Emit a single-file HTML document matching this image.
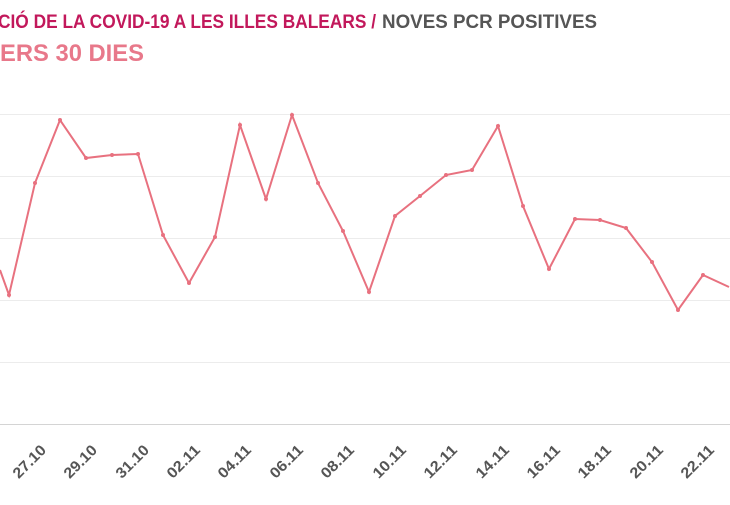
<!DOCTYPE html>
<html><head><meta charset="utf-8"><style>
body{margin:0;background:#fff;width:730px;height:500px;overflow:hidden;font-family:"Liberation Sans",sans-serif}
</style></head><body>
<svg width="730" height="500" xmlns="http://www.w3.org/2000/svg">
<text x="-2" y="28" font-family="Liberation Sans, sans-serif" font-weight="bold" font-size="19" fill="#c2185b" textLength="378" lengthAdjust="spacingAndGlyphs">CIÓ DE LA COVID-19 A LES ILLES BALEARS /</text>
<text x="382" y="28" font-family="Liberation Sans, sans-serif" font-weight="bold" font-size="19" fill="#555" textLength="215" lengthAdjust="spacingAndGlyphs">NOVES PCR POSITIVES</text>
<text x="0" y="61" font-family="Liberation Sans, sans-serif" font-weight="bold" font-size="24" fill="#e8788a" textLength="144" lengthAdjust="spacingAndGlyphs">ERS 30 DIES</text>
<g stroke="#ececec" stroke-width="1">
<line x1="0" x2="730" y1="114.5" y2="114.5"/><line x1="0" x2="730" y1="176.5" y2="176.5"/>
<line x1="0" x2="730" y1="238.5" y2="238.5"/><line x1="0" x2="730" y1="300.5" y2="300.5"/>
<line x1="0" x2="730" y1="362.5" y2="362.5"/></g>
<line x1="0" x2="730" y1="424.5" y2="424.5" stroke="#d4d4d4"/>
<polyline fill="none" stroke="#e8717f" stroke-width="2" points="0,270 9,295 35,183 60,120 86,158 112,155 138,154 163,235 189,283 215,237 240,125 266,199 292,115 318,183 343,231 369,292 395,216 420,196 446,175 472,170 498,126 523,206 549,269 575,219 600,220 626,228 652,262 678,310 703,275 729,287"/>
<g fill="#e8717f">
<circle cx="9" cy="295" r="2"/><circle cx="35" cy="183" r="2"/><circle cx="60" cy="120" r="2"/><circle cx="86" cy="158" r="2"/><circle cx="112" cy="155" r="2"/><circle cx="138" cy="154" r="2"/><circle cx="163" cy="235" r="2"/><circle cx="189" cy="283" r="2"/><circle cx="215" cy="237" r="2"/><circle cx="240" cy="125" r="2"/><circle cx="266" cy="199" r="2"/><circle cx="292" cy="115" r="2"/><circle cx="318" cy="183" r="2"/><circle cx="343" cy="231" r="2"/><circle cx="369" cy="292" r="2"/><circle cx="395" cy="216" r="2"/><circle cx="420" cy="196" r="2"/><circle cx="446" cy="175" r="2"/><circle cx="472" cy="170" r="2"/><circle cx="498" cy="126" r="2"/><circle cx="523" cy="206" r="2"/><circle cx="549" cy="269" r="2"/><circle cx="575" cy="219" r="2"/><circle cx="600" cy="220" r="2"/><circle cx="626" cy="228" r="2"/><circle cx="652" cy="262" r="2"/><circle cx="678" cy="310" r="2"/><circle cx="703" cy="275" r="2"/>
</g>
<g font-family="Liberation Sans, sans-serif" font-weight="bold" font-size="15" fill="#555" text-anchor="end">
<text transform="translate(47,451) rotate(-45)" textLength="40" lengthAdjust="spacingAndGlyphs">27.10</text>
<text transform="translate(98,451) rotate(-45)" textLength="40" lengthAdjust="spacingAndGlyphs">29.10</text>
<text transform="translate(150,451) rotate(-45)" textLength="40" lengthAdjust="spacingAndGlyphs">31.10</text>
<text transform="translate(201,451) rotate(-45)" textLength="40" lengthAdjust="spacingAndGlyphs">02.11</text>
<text transform="translate(252,451) rotate(-45)" textLength="40" lengthAdjust="spacingAndGlyphs">04.11</text>
<text transform="translate(304,451) rotate(-45)" textLength="40" lengthAdjust="spacingAndGlyphs">06.11</text>
<text transform="translate(355,451) rotate(-45)" textLength="40" lengthAdjust="spacingAndGlyphs">08.11</text>
<text transform="translate(407,451) rotate(-45)" textLength="40" lengthAdjust="spacingAndGlyphs">10.11</text>
<text transform="translate(458,451) rotate(-45)" textLength="40" lengthAdjust="spacingAndGlyphs">12.11</text>
<text transform="translate(510,451) rotate(-45)" textLength="40" lengthAdjust="spacingAndGlyphs">14.11</text>
<text transform="translate(561,451) rotate(-45)" textLength="40" lengthAdjust="spacingAndGlyphs">16.11</text>
<text transform="translate(612,451) rotate(-45)" textLength="40" lengthAdjust="spacingAndGlyphs">18.11</text>
<text transform="translate(664,451) rotate(-45)" textLength="40" lengthAdjust="spacingAndGlyphs">20.11</text>
<text transform="translate(715,451) rotate(-45)" textLength="40" lengthAdjust="spacingAndGlyphs">22.11</text>
</g>
</svg>
</body></html>
